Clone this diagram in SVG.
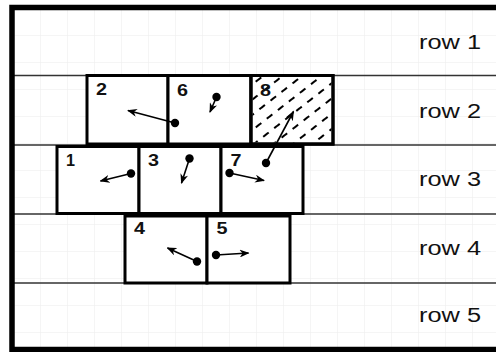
<svg xmlns="http://www.w3.org/2000/svg" width="496" height="352" viewBox="0 0 496 352">
<style>
.box{fill:#fff;stroke:#000;stroke-width:3}
.row{stroke:#333;stroke-width:1.5;fill:none}
.num{font-family:"Liberation Sans",Arial,sans-serif;font-weight:bold;font-size:17px;fill:#111}
.lbl{font-family:"Liberation Sans",Arial,sans-serif;font-size:20.5px;fill:#111}
.arr{stroke:#000;stroke-width:1.6;fill:none;marker-end:url(#ah)}
.dot{fill:#000}
</style>
<defs>
<pattern id="grid" x="13" y="8" width="27" height="27" patternUnits="userSpaceOnUse">
<path d="M0 0H27M0 0V27" stroke="#ebebeb" stroke-width="1" fill="none"/>
</pattern>
<pattern id="hatch" width="14" height="12" patternUnits="userSpaceOnUse" patternTransform="translate(252 77) rotate(-38)">
<line x1="0" y1="6" x2="7" y2="6" stroke="#000" stroke-width="2"/>
</pattern>
<marker id="ah" markerWidth="10" markerHeight="8" refX="9" refY="4" orient="auto" markerUnits="userSpaceOnUse">
<path d="M0 0L10 4L0 8L3 4Z" fill="#000"/>
</marker>
</defs>
<rect x="0" y="0" width="496" height="352" fill="#fff"/>
<rect x="13" y="8" width="490" height="341" fill="url(#grid)"/>
<g id="rows">
<line class="row" x1="14" y1="75.5" x2="496" y2="75.5"/>
<line class="row" x1="14" y1="145" x2="496" y2="145"/>
<line class="row" x1="14" y1="214" x2="496" y2="214"/>
<line class="row" x1="14" y1="283" x2="496" y2="283"/>
</g>
<g id="labels">
<text class="lbl" x="419" y="49" textLength="62" lengthAdjust="spacingAndGlyphs">row 1</text>
<text class="lbl" x="419" y="118" textLength="62" lengthAdjust="spacingAndGlyphs">row 2</text>
<text class="lbl" x="419" y="186" textLength="62" lengthAdjust="spacingAndGlyphs">row 3</text>
<text class="lbl" x="419" y="255" textLength="62" lengthAdjust="spacingAndGlyphs">row 4</text>
<text class="lbl" x="419" y="322" textLength="62" lengthAdjust="spacingAndGlyphs">row 5</text>
</g>
<g id="node2"><rect class="box" x="87" y="75.5" width="81" height="68.5"/><text class="num" x="96" y="95" textLength="11" lengthAdjust="spacingAndGlyphs">2</text></g>
<g id="node6"><rect class="box" x="168" y="75.5" width="83" height="68.5"/><text class="num" x="177" y="95.5" textLength="11" lengthAdjust="spacingAndGlyphs">6</text></g>
<g id="node8"><rect class="box" x="251" y="75.5" width="82" height="68.5"/><rect x="252.5" y="77" width="79" height="65.5" fill="url(#hatch)"/><rect x="251" y="75.5" width="82" height="68.5" fill="none" stroke="#000" stroke-width="3"/><text class="num" x="260" y="95.5" textLength="11" lengthAdjust="spacingAndGlyphs">8</text></g>
<g id="node1"><rect class="box" x="57" y="146.5" width="82" height="67"/><text class="num" x="66" y="166" textLength="9" lengthAdjust="spacingAndGlyphs">1</text></g>
<g id="node3"><rect class="box" x="139" y="146.5" width="82" height="67"/><text class="num" x="148" y="166" textLength="11" lengthAdjust="spacingAndGlyphs">3</text></g>
<g id="node7"><rect class="box" x="221" y="146.5" width="82" height="67"/><text class="num" x="230.5" y="165.5" textLength="11" lengthAdjust="spacingAndGlyphs">7</text></g>
<g id="node4"><rect class="box" x="125" y="216" width="82" height="67"/><text class="num" x="134" y="234" textLength="11" lengthAdjust="spacingAndGlyphs">4</text></g>
<g id="node5"><rect class="box" x="207" y="216" width="83" height="67"/><text class="num" x="216.5" y="233.5" textLength="11" lengthAdjust="spacingAndGlyphs">5</text></g>
<g id="connectors">
<line class="arr" x1="175" y1="123" x2="128" y2="110.5"/>
<circle class="dot" cx="175" cy="123" r="4.2"/>
<line class="arr" x1="216.5" y1="97" x2="210" y2="112"/>
<circle class="dot" cx="216.5" cy="97" r="4.2"/>
<line class="arr" x1="266" y1="163" x2="293.5" y2="111.5"/>
<circle class="dot" cx="266" cy="163" r="4.2"/>
<line class="arr" x1="131" y1="173.5" x2="100.5" y2="181"/>
<circle class="dot" cx="131" cy="173.5" r="4.2"/>
<line class="arr" x1="189.5" y1="158.5" x2="181.5" y2="183"/>
<circle class="dot" cx="189.5" cy="158.5" r="4.2"/>
<line class="arr" x1="229.5" y1="173" x2="264" y2="180.5"/>
<circle class="dot" cx="229.5" cy="173" r="4.2"/>
<line class="arr" x1="197" y1="261.5" x2="167.5" y2="248"/>
<circle class="dot" cx="197" cy="261.5" r="4.2"/>
<line class="arr" x1="216" y1="255" x2="248.5" y2="253"/>
<circle class="dot" cx="216" cy="255" r="4.2"/>
</g>
<rect id="frame" x="12" y="7.5" width="500" height="342" fill="none" stroke="#000" stroke-width="5.5"/>
</svg>
